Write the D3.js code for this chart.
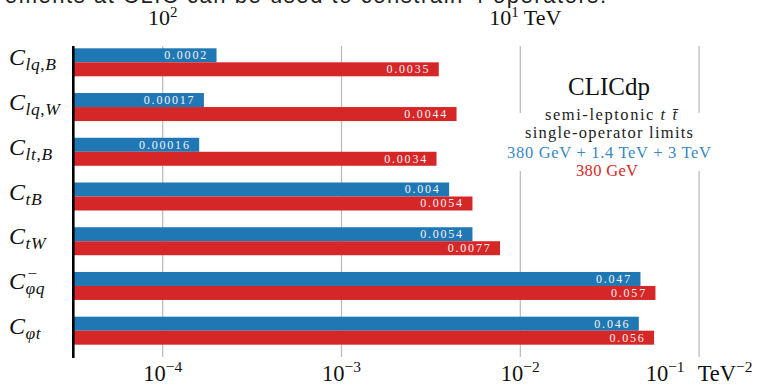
<!DOCTYPE html>
<html><head><meta charset="utf-8">
<script src="https://cdn.jsdelivr.net/npm/d3@7"></script>
<style>body{margin:0;background:#fff;overflow:hidden} svg{display:block}</style>
</head><body><svg id="c" width="760" height="385"></svg>
<script>
// ---- data ----
const categories = ["Clq,B","Clq,W","Clt,B","CtB","CtW","Cφq-","Cφt"];
const catSub = ["lq,B","lq,W","lt,B","tB","tW","φq","φt"];
const catSup = ["","","","","","−",""];
const seriesNames = ["380 GeV + 1.4 TeV + 3 TeV","380 GeV"];
const allStages = [0.0002,0.00017,0.00016,0.004,0.0054,0.047,0.046];
const stage380 = [0.0035,0.0044,0.0034,0.0054,0.0077,0.057,0.056];
const bottomTicks = [1e-4,1e-3,1e-2,1e-1];
const bottomTickExp = ["−4","−3","−2","−1"];
const bottomTickUnit = ["","","","TeV"];
const topTicks = [1e-4,1e-2];
const topTickExp = ["2","1"];
const topTickUnit = [""," TeV"];
const colors = ["#1f77b4","#d62728"];

const svg = d3.select("#c");
const serif = "'Liberation Serif', 'DejaVu Serif', serif";

// clipped caption from the slide above
svg.append("text").attr("x",-4).attr("y",3)
  .attr("font-family","'Liberation Sans', Arial, sans-serif").attr("font-size",22)
  .attr("fill","#222").attr("textLength",610).attr("lengthAdjust","spacing")
  .text("rements at CLIC can be used to constrain 4 operators.");

const x = d3.scaleLog().domain([Math.pow(10,-4.5), Math.pow(10,-0.5)]).range([73.3, 73.3+4*178.8]);
const y = d3.scaleBand().domain(categories).range([36.5,356.5]).paddingInner(0.374).paddingOuter(0.264);
const ys = d3.scaleBand().domain([0,1]).range([0,y.bandwidth()]);

// grid lines
svg.append("g").selectAll("line").data(bottomTicks).join("line")
  .attr("x1",d=>x(d)).attr("x2",d=>x(d)).attr("y1",46).attr("y2",357)
  .attr("stroke","#b8b8b8").attr("stroke-width",1.2);

// white box behind legend text
svg.append("rect").attr("x",504).attr("y",113).attr("width",211).attr("height",58).attr("fill","#fff");

// bars
const series = [allStages, stage380];
series.forEach((vals,si)=>{
  const g = svg.append("g");
  g.selectAll("rect").data(categories).join("rect")
    .attr("x",x.range()[0]).attr("y",(c)=>y(c)+ys(si))
    .attr("width",(c,i)=>x(vals[i])-x.range()[0]).attr("height",ys.bandwidth())
    .attr("fill",colors[si]);
  g.selectAll("text").data(categories).join("text")
    .attr("x",(c,i)=>x(vals[i])-8.5).attr("y",(c)=>y(c)+ys(si)+ys.bandwidth()/2+3.9)
    .attr("text-anchor","end").attr("font-family",serif).attr("font-size",12)
    .attr("letter-spacing",1.8).attr("fill","#f4f4f4")
    .text((c,i)=>String(vals[i]));
});

// left axis line
svg.append("line").attr("x1",73.3).attr("x2",73.3).attr("y1",46).attr("y2",358)
  .attr("stroke","#000").attr("stroke-width",2.6);

// y labels
categories.forEach((c,i)=>{
  const base = y(c)+y.bandwidth()/2+3;
  const t = svg.append("text").attr("x",9).attr("y",base)
    .attr("font-family",serif).attr("font-style","italic").attr("font-size",24).attr("fill","#111").text("C");
  const w = t.node().getComputedTextLength();
  const sx = 9+w+0.5;
  const sub = svg.append("text").attr("x",sx).attr("y",base+5)
    .attr("font-family",serif).attr("font-style","italic").attr("font-size",17.5).attr("fill","#111")
    .attr("letter-spacing",0.6);
  catSub[i].split("").forEach(ch=>{
    sub.append("tspan").attr("font-style",ch===","?"normal":"italic").text(ch);
  });
  if(catSup[i]){
    svg.append("text").attr("x",sx+2).attr("y",base-10)
      .attr("font-family",serif).attr("font-size",17).attr("fill","#111").text(catSup[i]);
  }
});

// bottom tick labels
bottomTicks.forEach((v,i)=>{
  const t = svg.append("text").attr("x",x(v)).attr("y",380.5).attr("text-anchor","middle")
    .attr("font-family",serif).attr("font-size",22.5).attr("fill","#111");
  t.append("tspan").text("10");
  t.append("tspan").attr("dy",-8.5).attr("font-size",15.5).text(bottomTickExp[i]);
  if(bottomTickUnit[i]){
    t.append("tspan").attr("dy",8.5).attr("dx",13).text(bottomTickUnit[i]);
    t.append("tspan").attr("dy",-8.5).attr("font-size",15.5).text("−2");
  }
});

// top tick labels (Λ = 1/√C)
topTicks.forEach((v,i)=>{
  const t = svg.append("text").attr("x",x(v)+(topTickUnit[i]?5:0)).attr("y",25).attr("text-anchor","middle")
    .attr("font-family",serif).attr("font-size",22).attr("fill","#111");
  t.append("tspan").text("10");
  t.append("tspan").attr("dy",-8).attr("font-size",15).text(topTickExp[i]);
  if(topTickUnit[i]) t.append("tspan").attr("dy",8).text(topTickUnit[i]);
});

// legend text
const cx = 609;
svg.append("text").attr("x",cx).attr("y",95).attr("text-anchor","middle")
  .attr("font-family",serif).attr("font-size",25).attr("fill","#111")
  .attr("textLength",82).attr("lengthAdjust","spacing").text("CLICdp");
const l2 = svg.append("text").attr("x",cx+2).attr("y",120).attr("text-anchor","middle")
  .attr("font-family",serif).attr("font-size",16.5).attr("fill","#222")
  .attr("textLength",132).attr("lengthAdjust","spacing");
l2.append("tspan").text("semi-leptonic ");
l2.append("tspan").attr("font-style","italic").text("t t\u0304");
svg.append("text").attr("x",cx).attr("y",138).attr("text-anchor","middle")
  .attr("font-family",serif).attr("font-size",16.5).attr("fill","#222")
  .attr("textLength",168).attr("lengthAdjust","spacing").text("single-operator limits");
svg.append("text").attr("x",cx).attr("y",158).attr("text-anchor","middle")
  .attr("font-family",serif).attr("font-size",16.5).attr("fill","#3a87c4")
  .attr("textLength",204).attr("lengthAdjust","spacing").text(seriesNames[0]);
svg.append("text").attr("x",cx-2).attr("y",176).attr("text-anchor","middle")
  .attr("font-family",serif).attr("font-size",16.5).attr("fill","#d62728")
  .attr("textLength",62).attr("lengthAdjust","spacing").text(seriesNames[1]);
</script></body></html>
